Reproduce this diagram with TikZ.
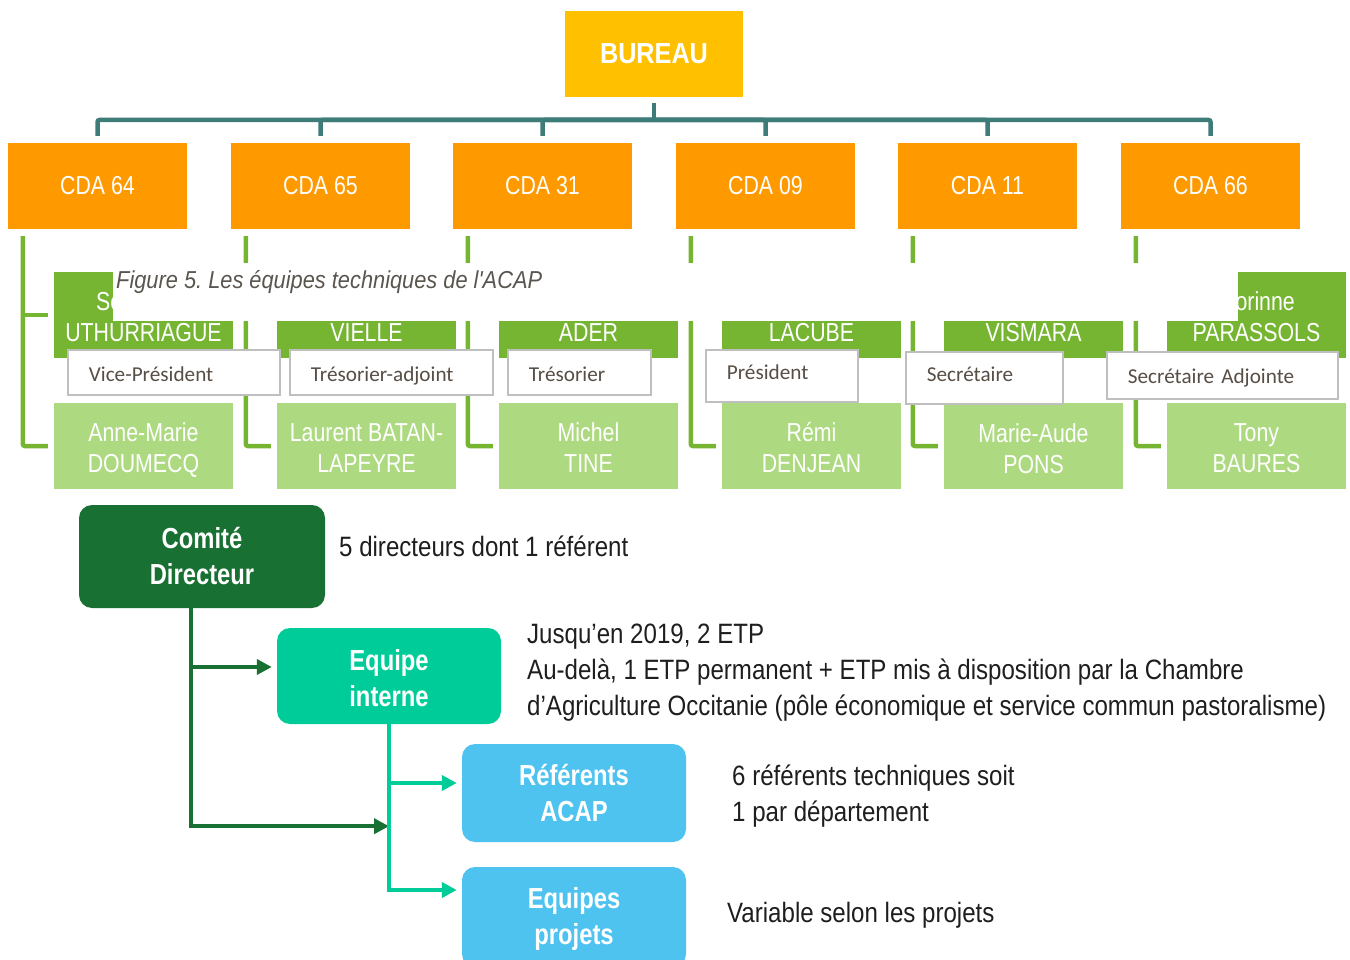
\documentclass[tikz,border=0pt]{standalone}
\usepackage{fontspec}
\setmainfont{Liberation Sans}
\newfontfamily\etroite{Liberation Sans}[FakeStretch=0.82]
\newfontfamily\descfont{Liberation Sans}[FakeStretch=0.86]
\newfontfamily\titre{Liberation Sans}[FakeStretch=0.87]
\newfontfamily\legende{Liberation Sans}[FakeStretch=0.89,Ligatures=TeXOff]
\newfontfamily\calibri{Carlito}
\usetikzlibrary{positioning,arrows.meta}
\frenchspacing

\definecolor{jaunebureau}{HTML}{FFC000}
\definecolor{orangecda}{HTML}{FF9900}
\definecolor{bleucanard}{HTML}{3E7C7A}
\definecolor{vertfonce}{HTML}{76B532}
\definecolor{vertclair}{HTML}{ADDA80}
\definecolor{grisbord}{HTML}{BFBFBF}
\definecolor{gristexte}{HTML}{574E45}
\definecolor{grislegende}{HTML}{5A554F}
\definecolor{vertcomite}{HTML}{187032}
\definecolor{vertequipe}{HTML}{00CC99}
\definecolor{bleuciel}{HTML}{4FC3F0}
\definecolor{noirtexte}{HTML}{1E1E1E}

\tikzset{
    bureaubox/.style={fill=jaunebureau, text=white, minimum width=178pt, minimum height=86pt, inner sep=0pt, font=\titre\bfseries\fontsize{29}{34}\selectfont},
    cdabox/.style={fill=orangecda, text=white, minimum width=179pt, minimum height=86pt, inner sep=0pt, font=\etroite\fontsize{26}{31}\selectfont},
    nombox/.style={fill=vertfonce, minimum width=179pt, minimum height=86pt, inner sep=0pt},
    nomtexte/.style={text=white, inner sep=0pt, anchor=base, font=\etroite\fontsize{26}{31}\selectfont},
    personnebox/.style={fill=vertclair, minimum width=179pt, minimum height=86pt, inner sep=0pt},
    personnetexte/.style={text=white, align=center, inner sep=0pt, font=\etroite\fontsize{26}{31}\selectfont},
    rolebox/.style={draw=grisbord, line width=1.8pt, fill=white, text=gristexte, anchor=north west, inner xsep=21pt, inner ysep=0pt, align=left, text depth=0pt, font=\calibri\fontsize{21.2}{24}\selectfont},
    legendetexte/.style={text=grislegende, inner sep=0pt, anchor=base west, font=\legende\itshape\fontsize{24.5}{28}\selectfont},
    lienbureau/.style={draw=bleucanard, line width=4.5pt, rounded corners=2pt},
    lienvert/.style={draw=vertfonce, line width=4.5pt, rounded corners=2pt},
    equipebox/.style={rounded corners=13pt, inner sep=0pt},
    equipetexte/.style={text=white, align=center, inner sep=0pt, font=\etroite\bfseries\fontsize{29}{36}\selectfont},
    fleche/.style={line width=4.5pt, -{Triangle[length=15pt,width=15pt]}},
    desc/.style={text=noirtexte, align=left, inner sep=0pt, font=\descfont\fontsize{28}{36}\selectfont},
}

\begin{document}
\begin{tikzpicture}[x=1pt,y=-1pt]
    \clip (0,0) rectangle (1350,960);

    % Bureau et barre de liaison
    \node[bureaubox] (bureau) at (654,54) {BUREAU};
    \coordinate (barre) at (654,120);
    \draw[lienbureau] ([yshift=-6pt]bureau.south) -- (barre);

    % Les six CDA et leurs élus
    \foreach \i/\cx/\cda/\nom/\pers/\dy in {
        1/97.5/CDA 64/UTHURRIAGUE/{Anne-Marie\\DOUMECQ}/4,
        2/320.5/CDA 65/VIELLE/{Laurent BATAN-\\LAPEYRE}/2,
        3/542.5/CDA 31/ADER/{Michel\\TINE}/2,
        4/765.5/CDA 09/LACUBE/{Rémi\\DENJEAN}/2,
        5/987.5/CDA 11/VISMARA/{Marie-Aude\\PONS}/3,
        6/1210.5/CDA 66/PARASSOLS/{Tony\\BAURES}/2}
    {
        \node[cdabox] (cda\i) at (\cx,186) {\cda};
        \draw[lienbureau] ([yshift=7pt]cda\i.north) |- (barre);
        \node[nombox] (nom\i) at (\cx+46,315) {};
        \node[nomtexte] (nomtxt\i) at ([yshift=-26pt]nom\i.center) {\nom};
        \node[personnebox] (pers\i) at (\cx+46,446) {};
        \node[personnetexte] (perstxt\i) at ([yshift=-\dy pt]pers\i.center) {\pers};
        \coordinate (depart\i) at ([xshift=15pt,yshift=-7pt]cda\i.south west);
        \draw[lienvert] (depart\i) |- ([xshift=-6pt]pers\i.west);
        \draw[lienvert] (depart\i |- nom\i.west) -- ([xshift=-6pt]nom\i.west);
    }

    % Restes des prénoms sous la légende
    \node[nomtexte, anchor=base west] (prenom1) at (96,310) {Se};
    \node[nomtexte, anchor=base east] (prenom6) at (1295,310) {orinne};

    % Cartouche de la légende
    \fill[white] (113,263) rectangle (1238,321);
    \node[legendetexte] (legende) at (116,288) {Figure 5. Les équipes techniques de l'ACAP};

    % Fonctions au bureau
    \foreach \i/\rx/\ry/\rw/\rh/\th/\role in {
        1/67/349/212/45/18/Vice-Président,
        2/289/349/203/45/18/Trésorier-adjoint,
        3/507/349/143/45/18/Trésorier,
        4/705/349/152/52/8/Président,
        5/905/351/157/52/8/Secrétaire,
        6/1106/351/231/47/16/Secrétaire Adjointe}
    {
        \pgfmathsetmacro\largeur{\rw-42}
        \node[rolebox, minimum height=\rh pt, text width=\largeur pt, text height=\th pt] (role\i) at (\rx,\ry) {\role};
    }

    % Equipe technique
    \node[equipebox, fill=vertcomite, minimum width=246pt, minimum height=103pt] (comite) at (202,556.5) {};
    \node[equipebox, fill=vertequipe, minimum width=224pt, minimum height=96pt] (interne) at (389,676) {};
    \node[equipebox, fill=bleuciel, minimum width=224pt, minimum height=98pt] (referents) at (574,793) {};
    \node[equipebox, fill=bleuciel, minimum width=224pt, minimum height=100pt] (projets) at (574,917) {};
    \node[equipetexte] (comitetxt) at (comite.center) {Comité\\Directeur};
    \node[equipetexte] (internetxt) at ([yshift=-2pt]interne.center) {Equipe\\interne};
    \node[equipetexte] (referentstxt) at (referents.center) {Référents\\ACAP};
    \node[equipetexte] (projetstxt) at ([yshift=-2pt]projets.center) {Equipes\\projets};

    % Textes explicatifs
    \node[desc, anchor=base west] (desc1) at (339,556) {5 directeurs dont 1 référent};
    \node[desc, anchor=west] (desc2) at (527,673) {Jusqu’en 2019, 2 ETP\\Au-delà, 1 ETP permanent + ETP mis à disposition par la Chambre\\d’Agriculture Occitanie (pôle économique et service commun pastoralisme)};
    \node[desc, anchor=west] (desc3) at (732,796) {6 référents techniques soit\\1 par département};
    \node[desc, anchor=base west] (desc4) at (727,922) {Variable selon les projets};

    % Flèches
    \coordinate (coude) at ([xshift=-11pt]comite.south);
    \coordinate (jonction) at ([yshift=-102pt]interne.south);
    \draw[fleche, vertcomite] (coude) |- ([xshift=-5pt,yshift=9pt]interne.west);
    \draw[fleche, vertcomite] (coude) |- (jonction);
    \draw[fleche, vertequipe] (interne.south) |- ([xshift=-5pt,yshift=10pt]referents.west);
    \draw[fleche, vertequipe] (interne.south) |- ([xshift=-5pt,yshift=27pt]projets.west);
\end{tikzpicture}
\end{document}
